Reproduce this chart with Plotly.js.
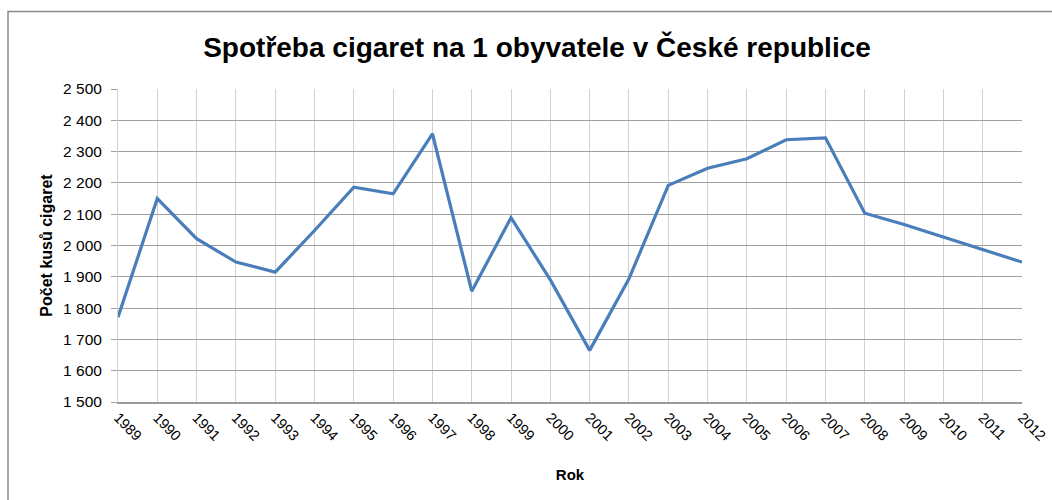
<!DOCTYPE html>
<html>
<head>
<meta charset="utf-8">
<script src="https://cdn.plot.ly/plotly-3.0.1.min.js"></script>
<style>
  html, body { margin: 0; padding: 0; background: #ffffff; }
  #chart { width: 1052px; height: 500px; }
</style>
</head>
<body>
<div id="chart"></div>
<script>
const years = ["1989","1990","1991","1992","1993","1994","1995","1996","1997","1998","1999","2000",
               "2001","2002","2003","2004","2005","2006","2007","2008","2009","2010","2011","2012"];
const consumption = [1771, 2150, 2022, 1947, 1915, 2048, 2186, 2165, 2357, 1854, 2089, 1890,
                     1665, 1894, 2192, 2247, 2277, 2338, 2344, 2103, 2067, 2027, 1986, 1947];
const yTickVals = [1500, 1600, 1700, 1800, 1900, 2000, 2100, 2200, 2300, 2400, 2500];
const yTickText = ["1 500", "1 600", "1 700", "1 800", "1 900", "2 000", "2 100", "2 200", "2 300", "2 400", "2 500"];
const chartTitle = "Spotřeba cigaret na 1 obyvatele v České republice";
const xTitle = "Rok";
const yTitle = "Počet kusů cigaret";

const L = 118, R = 30, T = 88.5, B = 98.3;
const W = 1052, H = 500;
const pw = W - L - R, ph = H - T - B;
const px = v => (v - L) / pw;
const py = v => (H - B - v) / ph;

const trace = {
  x: years,
  y: consumption,
  type: "scatter",
  mode: "lines",
  line: { color: "#4a7ebb", width: 3.2 },
  hoverinfo: "x+y"
};

const layout = {
  width: W,
  height: H,
  margin: { l: L, r: R, t: T, b: B, pad: 0 },
  paper_bgcolor: "#ffffff",
  plot_bgcolor: "#ffffff",
  showlegend: false,
  font: { family: "Liberation Sans, Arial, sans-serif", color: "#000000" },
  title: {
    text: "<b>" + chartTitle + "</b>",
    font: { size: 28, family: "Liberation Sans, Arial, sans-serif", color: "#000000" },
    x: 537 / W,
    xanchor: "center",
    xref: "container",
    y: 1 - 47 / H,
    yanchor: "middle",
    yref: "container"
  },
  xaxis: {
    type: "category",
    range: [0, years.length - 1],
    tickangle: 45,
    tickfont: { size: 14.5, color: "#000000" },
    showgrid: true,
    gridcolor: "#d2d2d2",
    gridwidth: 1,
    showline: true,
    linecolor: "#9a9a9a",
    linewidth: 1.5,
    ticks: "",
    zeroline: false,
    fixedrange: true,
    title: {
      text: "<b>" + xTitle + "</b>",
      font: { size: 15, color: "#000000" },
      standoff: 27
    }
  },
  yaxis: {
    range: [1500, 2500],
    tickvals: yTickVals,
    ticktext: yTickText,
    tickfont: { size: 15.5, color: "#000000" },
    showgrid: true,
    gridcolor: "#a0a0a0",
    gridwidth: 1,
    showline: true,
    linecolor: "#d2d2d2",
    ticks: "outside",
    ticklen: 6,
    tickcolor: "#a0a0a0",
    ticklabelstandoff: 6,
    zeroline: false,
    fixedrange: true,
    title: {
      text: "<b>" + yTitle + "</b>",
      font: { size: 16, color: "#000000" },
      standoff: 6
    }
  },
  shapes: [
    {
      type: "rect",
      xref: "paper", yref: "paper",
      x0: px(8), x1: px(1060),
      y0: py(510), y1: py(11),
      line: { color: "#8a8a8a", width: 1.5 },
      fillcolor: "rgba(0,0,0,0)",
      layer: "below"
    }
  ]
};

Plotly.newPlot("chart", [trace], layout, { displayModeBar: false, staticPlot: true });
</script>
</body>
</html>
